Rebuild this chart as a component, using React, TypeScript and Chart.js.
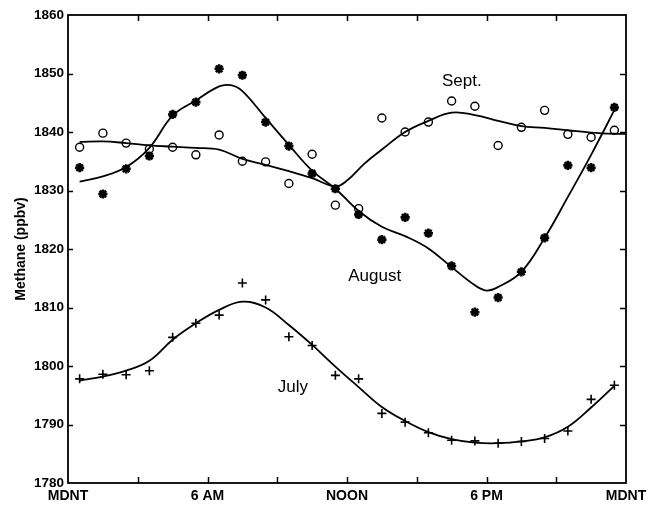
import React, { useEffect, useRef } from 'react';
import { Chart, registerables } from 'chart.js';

Chart.register(...registerables);

// ---- Data (hours after midnight, methane ppbv) ----
const pointHours = [0.5, 1.5, 2.5, 3.5, 4.5, 5.5, 6.5, 7.5, 8.5, 9.5, 10.5, 11.5, 12.5, 13.5, 14.5, 15.5, 16.5, 17.5, 18.5, 19.5, 20.5, 21.5, 22.5, 23.5];

const septPoints = [1837.4, 1839.8, 1838.1, 1837.1, 1837.4, 1836.1, 1839.5, 1835.0, 1834.9, 1831.2, 1836.2, 1827.5, 1826.9, 1842.4, 1840.0, 1841.7, 1845.3, 1844.4, 1837.7, 1840.8, 1843.7, 1839.6, 1839.1, 1840.3];
const augustPoints = [1833.9, 1829.4, 1833.7, 1835.9, 1843.0, 1845.1, 1850.8, 1849.7, 1841.7, 1837.6, 1832.9, 1830.3, 1825.9, 1821.6, 1825.4, 1822.7, 1817.1, 1809.2, 1811.7, 1816.1, 1821.9, 1834.3, 1833.9, 1844.2];
const julyPoints = [1797.8, 1798.6, 1798.5, 1799.2, 1804.9, 1807.3, 1808.7, 1814.2, 1811.3, 1805.0, 1803.5, 1798.4, 1797.8, 1791.9, 1790.4, 1788.6, 1787.3, 1787.2, 1786.8, 1787.1, 1787.6, 1788.9, 1794.3, 1796.7];

const septCurveHours = [0.5, 1.5, 2.5, 3.5, 4.5, 5.5, 6.5, 7.5, 8.5, 9.5, 10.5, 11.5, 12.0, 12.75, 13.5, 14.5, 15.5, 16.5, 17.5, 18.5, 19.5, 20.5, 21.5, 22.5, 23.5, 24];
const septCurve = [1838.3, 1838.4, 1838.1, 1837.7, 1837.5, 1837.3, 1837.0, 1835.4, 1834.4, 1833.3, 1832.1, 1830.7, 1831.7, 1834.6, 1837.0, 1840.0, 1841.9, 1843.3, 1842.9, 1841.9, 1841.0, 1840.7, 1840.3, 1839.9, 1839.7, 1839.7];

const augustCurveHours = [0.5, 1.5, 2.5, 3.5, 4.5, 5.5, 6.5, 7.0, 7.5, 8.5, 9.5, 10.5, 11.5, 12.5, 13.5, 14.5, 15.5, 16.5, 17.5, 18.0, 18.5, 19.5, 20.5, 21.5, 22.5, 23.6];
const augustCurve = [1831.5, 1832.4, 1834.0, 1837.3, 1842.8, 1845.4, 1847.8, 1848.0, 1847.0, 1842.4, 1837.8, 1833.4, 1830.3, 1826.5, 1823.8, 1822.2, 1820.1, 1816.9, 1813.8, 1812.9, 1813.5, 1816.1, 1821.9, 1828.9, 1836.1, 1844.5];

const julyCurveHours = [0.5, 1.5, 2.5, 3.5, 4.5, 5.5, 6.5, 7.5, 8.5, 9.5, 10.5, 11.5, 12.5, 13.5, 14.5, 15.5, 16.5, 17.5, 18.5, 19.5, 20.5, 21.5, 22.5, 23.5];
const julyCurve = [1797.5, 1798.2, 1799.2, 1800.9, 1804.5, 1807.3, 1809.6, 1811.0, 1810.0, 1807.0, 1803.6, 1799.9, 1796.4, 1793.0, 1790.6, 1788.7, 1787.5, 1786.9, 1786.8, 1787.1, 1787.8, 1789.6, 1792.9, 1796.6];

const xTickValues = [0, 6, 12, 18, 24];
const xTickLabels = ['MDNT', '6 AM', 'NOON', '6 PM', 'MDNT'];
const xMinorTicks = [3, 6, 9, 12, 15, 18, 21];
const yTickValues = [1790, 1800, 1810, 1820, 1830, 1840, 1850];
const seriesNames = ['Sept.', 'August', 'July'];

const FONT = 'Arimo, "Liberation Sans", Arial, Helvetica, sans-serif';

const toXY = (xs: number[], ys: number[]) => xs.map((x, i) => ({ x, y: ys[i] }));

const framePlugin = {
  id: 'frameAndLabels',
  afterDraw(chart: any) {
    const { ctx, chartArea } = chart;
    const { left, right, top, bottom } = chartArea;
    const xs = chart.scales.x;
    const ys = chart.scales.y;
    ctx.save();
    ctx.strokeStyle = '#000';
    ctx.lineWidth = 1.8;
    ctx.strokeRect(left, top, right - left, bottom - top);
    ctx.lineWidth = 1.5;
    ctx.beginPath();
    xMinorTicks.forEach((h) => {
      const px = Math.round(xs.getPixelForValue(h)) + 0.5;
      ctx.moveTo(px, top);
      ctx.lineTo(px, top + 6);
      ctx.moveTo(px, bottom);
      ctx.lineTo(px, bottom - 6);
    });
    yTickValues.forEach((v) => {
      const py = Math.round(ys.getPixelForValue(v)) + 0.5;
      ctx.moveTo(right, py);
      ctx.lineTo(right - 6, py);
      ctx.moveTo(left, py);
      ctx.lineTo(left + 5, py);
    });
    ctx.stroke();

    // series annotations
    const anchors = [
      { x: 16.94, y: 1847.8 },
      { x: 13.19, y: 1814.6 },
      { x: 9.67, y: 1795.5 },
    ];
    ctx.fillStyle = '#000';
    ctx.font = `17px ${FONT}`;
    ctx.textAlign = 'center';
    ctx.textBaseline = 'alphabetic';
    seriesNames.forEach((name, i) => {
      ctx.fillText(name, xs.getPixelForValue(anchors[i].x), ys.getPixelForValue(anchors[i].y));
    });
    ctx.restore();
  },
};

export default function App() {
  const canvasRef = useRef<HTMLCanvasElement | null>(null);

  useEffect(() => {
    const canvas = canvasRef.current;
    if (!canvas) return;
    const curveStyle = {
      showLine: true,
      borderColor: '#000',
      borderWidth: 1.8,
      pointRadius: 0,
      tension: 0.4,
      fill: false,
    };
    const chart = new Chart(canvas, {
      type: 'scatter',
      data: {
        datasets: [
          { label: 'Sept. fit', data: toXY(septCurveHours, septCurve), ...curveStyle },
          { label: 'August fit', data: toXY(augustCurveHours, augustCurve), ...curveStyle },
          { label: 'July fit', data: toXY(julyCurveHours, julyCurve), ...curveStyle },
          {
            label: 'Sept.',
            data: toXY(pointHours, septPoints),
            pointStyle: 'circle',
            pointRadius: 4,
            pointBorderWidth: 1.4,
            pointBorderColor: '#000',
            pointBackgroundColor: 'rgba(0,0,0,0)',
            showLine: false,
          },
          {
            label: 'August',
            data: toXY(pointHours, augustPoints),
            pointStyle: 'star',
            pointRadius: 4.6,
            pointBorderWidth: 2.6,
            pointBorderColor: '#000',
            pointBackgroundColor: '#000',
            showLine: false,
          },
          {
            label: 'July',
            data: toXY(pointHours, julyPoints),
            pointStyle: 'cross',
            pointRadius: 4.5,
            pointBorderWidth: 1.6,
            pointBorderColor: '#000',
            pointBackgroundColor: '#000',
            showLine: false,
          },
        ],
      },
      options: {
        responsive: false,
        animation: false,
        devicePixelRatio: 1,
        layout: { padding: { top: 15, right: 28, bottom: 0, left: 0 } },
        plugins: {
          legend: { display: false },
          tooltip: { enabled: false },
        },
        scales: {
          x: {
            type: 'linear',
            min: 0,
            max: 24,
            grid: { display: false, drawTicks: false },
            border: { display: false },
            afterBuildTicks: (scale: any) => {
              scale.ticks = xTickValues.map((v) => ({ value: v }));
            },
            afterFit: (scale: any) => {
              scale.height = 25;
            },
            ticks: {
              autoSkip: false,
              maxRotation: 0,
              padding: 5,
              color: '#000',
              font: { family: FONT, size: 14, weight: 'bold' },
              callback: (v: any) => {
                const i = xTickValues.indexOf(Number(v));
                return i >= 0 ? xTickLabels[i] : '';
              },
            },
          },
          y: {
            min: 1780,
            max: 1860,
            grid: { display: false, drawTicks: false },
            border: { display: false },
            afterFit: (scale: any) => {
              scale.width = 68;
            },
            ticks: {
              stepSize: 10,
              padding: 4,
              color: '#000',
              font: { family: FONT, size: 13.5, weight: 'bold' },
              callback: (v: any) => String(v),
            },
            title: {
              display: true,
              text: 'Methane (ppbv)',
              color: '#000',
              font: { family: FONT, size: 14, weight: 'bold' },
              padding: { top: 13, bottom: 0 },
            },
          },
        },
      },
      plugins: [framePlugin],
    } as any);
    return () => chart.destroy();
  }, []);

  return (
    <div style={{ position: 'absolute', left: 0, top: 0, width: 654, height: 508, background: '#fff' }}>
      <canvas ref={canvasRef} width={654} height={508} style={{ width: 654, height: 508, display: 'block' }} />
    </div>
  );
}
